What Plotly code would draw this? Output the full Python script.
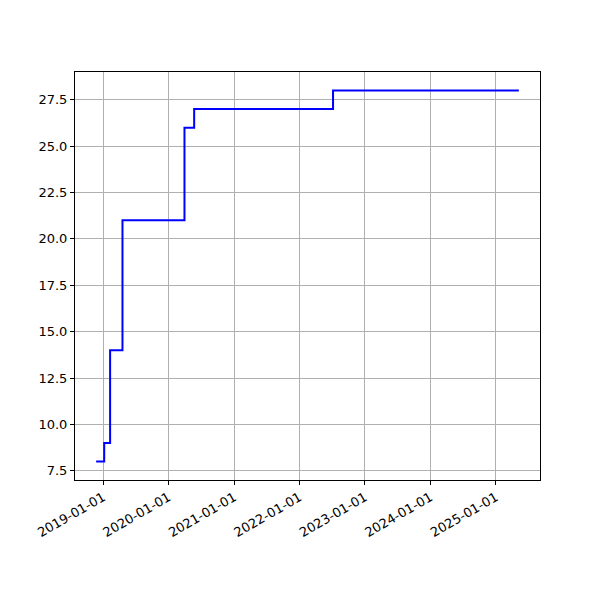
import plotly.graph_objects as go
import pandas as pd

dates = ["2018-11-23", "2019-01-07", "2019-02-09", "2019-04-19",
         "2020-03-30", "2020-05-23", "2022-07-07", "2025-05-09"]
values = [8, 9, 14, 21, 26, 27, 28, 28]
tick_dates = ["2019-01-01", "2020-01-01", "2021-01-01", "2022-01-01",
              "2023-01-01", "2024-01-01", "2025-01-01"]
y_ticks = [7.5, 10.0, 12.5, 15.0, 17.5, 20.0, 22.5, 25.0, 27.5]

d = pd.to_datetime(dates)
span = d.max() - d.min()
xr = [d.min() - span * 0.05, d.max() + span * 0.05]
ymin, ymax = min(values), max(values)
yr = [ymin - (ymax - ymin) * 0.05, ymax + (ymax - ymin) * 0.05]

fig = go.Figure(go.Scatter(x=d, y=values, mode="lines", line_shape="hv",
                           line=dict(color="blue", width=2)))

axis_common = dict(showline=True, linecolor="black", linewidth=1, mirror=True,
                   ticks="outside", ticklen=4, tickcolor="black",
                   showgrid=True, gridcolor="#b0b0b0", gridwidth=1,
                   zeroline=False, automargin=False,
                   tickfont=dict(family="DejaVu Sans", size=13, color="black"))

fig.update_layout(
    width=600, height=600,
    paper_bgcolor="white", plot_bgcolor="white",
    margin=dict(l=67, r=68, t=64, b=128),
    showlegend=False,
    xaxis=dict(range=xr, tickvals=pd.to_datetime(tick_dates), ticktext=tick_dates,
               tickangle=-30, **axis_common),
    yaxis=dict(range=yr, tickvals=y_ticks, ticktext=[f"{v:.1f}" for v in y_ticks],
               **axis_common),
)
fig.write_html("out.html")
